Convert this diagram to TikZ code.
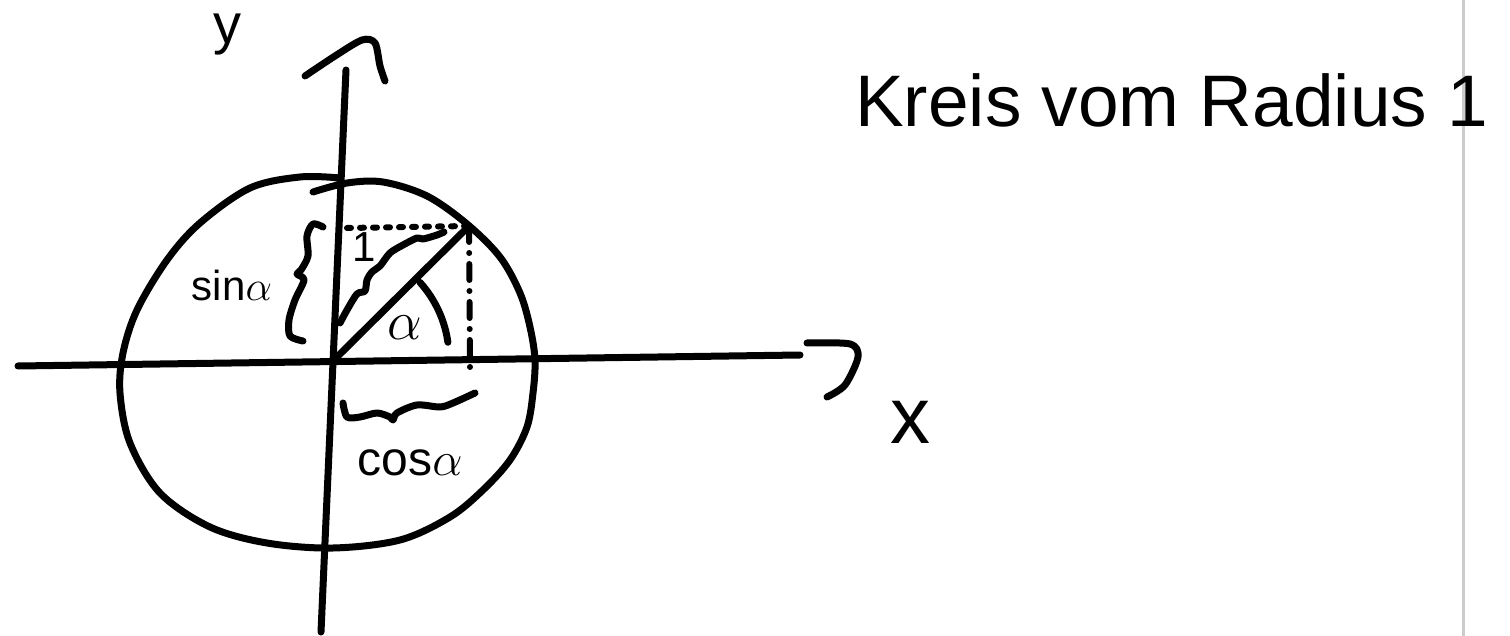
\documentclass[tikz,border=0pt]{standalone}
\usepackage{fix-cm}
\usepackage{fontspec}
\setmainfont{Liberation Sans}
\usepackage{tikz}
\definecolor{pen}{RGB}{0,0,0}
\definecolor{marginline}{RGB}{204,204,204}

\begin{document}
\begin{tikzpicture}[x=1pt,y=-1pt,
  ink/.style={draw=pen,line width=7pt,line cap=round,line join=round},
  lbl/.style={inner sep=0pt,text=pen}]
  \useasboundingbox (0,0) rectangle (1510,636);
  % margin line of the page
  \coordinate (mtop) at (1463,0);
  \coordinate (mbot) at (1463,636);
  \draw[marginline,line width=3pt] (mtop) -- (mbot);
  % axes with hooked tips
  \coordinate (O) at (336,358);
  \coordinate (xl) at (18,366);
  \coordinate (xr) at (800,355);
  \coordinate (yb) at (321,632);
  \coordinate (yt) at (346,70);
  \draw[ink] (xl) -- (xr);
  \draw[ink] (yb) -- (yt);
  \draw[ink] plot[smooth] coordinates {(807,343) (850,344) (858,357) (845,385) (827,397)};
  \draw[ink] plot[smooth] coordinates {(305,76) (335,56) (362,40) (375,43) (380,66) (385,81)};
  % unit circle, drawn by hand
  \draw[ink] plot[smooth,tension=0.55] coordinates {(313,192) (347,183) (383,182) (427,196)
    (467,224) (500,257) (520,293) (530,327) (535,360) (533,393) (527,427) (510,460)
    (483,490) (450,517) (400,540) (333,548) (267,543) (210,527) (160,493) (130,443)
    (120,393) (123,353) (137,310) (167,260) (200,223) (250,188) (300,177) (340,178)};
  % triangle O--P with its projections
  \coordinate (P) at (469,226);
  \coordinate (Ps) at (347,228);
  \coordinate (Pc) at (470,368);
  \draw[ink] (O) -- (P);
  \draw[ink,line width=6pt,dash pattern=on 4pt off 9pt] (Ps) -- (P);
  \draw[ink,line width=6pt,dash pattern=on 16pt off 11pt on 0pt off 11pt] (P) -- (Pc);
  \draw[ink] (O) ++(-42:113) arc[start angle=-42,end angle=-8,radius=113];
  % braces
  \draw[ink] plot[smooth] coordinates {(340,323) (347,310) (357,294) (365,291) (367,280)
    (372,272) (380,266) (390,253) (403,245) (417,238) (423,239) (437,235) (444,232)};
  \draw[ink] plot[smooth] coordinates {(323,227) (313,224) (307,236) (308,256) (301,270)
    (297,274) (304,280) (295,300) (289,320) (290,336) (303,341)};
  \draw[ink] plot[smooth] coordinates {(343,403) (347,417) (360,417) (377,413) (390,417)
    (393,420) (397,413) (417,405) (440,407) (453,403) (475,393)};
  % labels
  \node[lbl,font=\fontsize{56}{58}\selectfont,anchor=base] (ylab) at (227,44) {y};
  \node[lbl,font=\fontsize{80}{80}\selectfont,anchor=base] (xlab) at (910,443) {x};
  \node[lbl,font=\fontsize{42}{44}\selectfont] (sinlab) at (232,285) {sin$\alpha$};
  \node[lbl,font=\fontsize{48}{50}\selectfont] (coslab) at (410,463) {cos$\alpha$};
  \node[lbl,font=\fontsize{42}{44}\selectfont,anchor=base] (one) at (364,262) {1};
  \node[lbl,font=\fontsize{55}{56}\selectfont] (alab) at (405,328) {$\alpha$};
  \node[lbl,font=\fontsize{73}{76}\selectfont,anchor=base west] (title) at (855,127)
    {Kreis vom Radius 1};
\end{tikzpicture}
\end{document}
